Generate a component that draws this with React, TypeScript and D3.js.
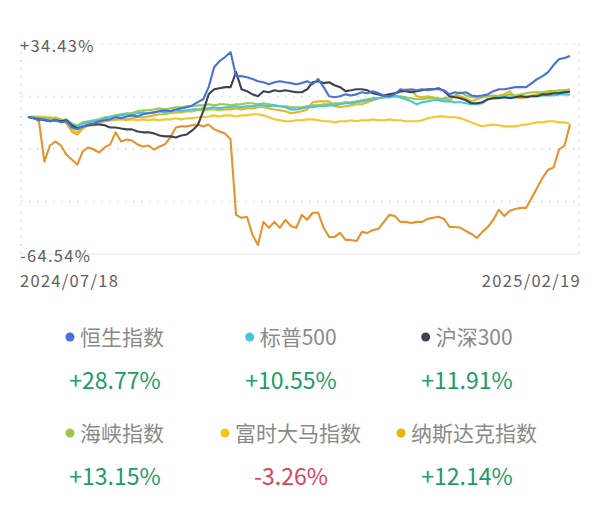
import * as d3 from "d3";

const W = 600;
const H = 521;

const yMax = 34.43;
const yMin = -64.54;
const startDate = "2024/07/18";
const endDate = "2025/02/19";

// 恒生指数
const hsi = [0, -0.6, -1.5, -1.1, -2.0, -1.5, -2.5, -2.0, -4.9, -5.8, -4.4, -3.5, -3.0, -2.0, -1.5, -1.1, -0.1, -0.6, 0.3, 0.8,
  0.3, 1.3, 1.8, 2.2, 2.7, 3.2, 2.7, 3.6, 4.1, 4.6, 5.5, 7.0, 8.4, 14.1, 23.5, 26.4, 28.3, 30.6, 19.3, 19.3,
  18.8, 17.9, 16.9, 16.4, 15.5, 16.4, 16.9, 16.4, 16.0, 15.5, 16.0, 16.9, 15.5, 17.9, 14.1, 9.8, 9.3, 9.8, 10.7, 10.2,
  10.7, 11.7, 11.2, 12.2, 11.2, 10.2, 9.8, 10.7, 13.1, 12.6, 13.1, 12.6, 13.1, 12.6, 13.1, 13.1, 12.6, 10.7, 11.7, 11.2,
  11.7, 10.2, 9.8, 10.2, 10.7, 12.2, 13.1, 13.1, 13.6, 14.1, 14.1, 14.1, 16.0, 17.9, 19.3, 21.2, 24.5, 27.3, 27.8, 28.77];

// 标普500
const spx = [0, -0.1, -0.6, -1.1, -1.5, -1.1, -2.0, -1.5, -3.5, -4.4, -3.0, -2.5, -2.0, -1.5, -0.6, -0.1, 0.3, 0.8, 1.3, 0.8,
  1.8, 2.2, 1.8, 2.2, 2.7, 2.2, 2.7, 3.2, 2.7, 3.2, 3.6, 3.6, 4.1, 4.1, 4.6, 4.1, 4.6, 4.6, 5.1, 4.6,
  5.1, 5.1, 5.5, 5.5, 5.1, 5.5, 5.1, 4.6, 3.6, 3.6, 4.1, 4.6, 4.6, 5.1, 5.1, 5.5, 5.5, 6.0, 6.5, 6.5,
  7.0, 7.4, 7.9, 8.4, 8.9, 9.3, 9.3, 9.8, 9.3, 8.4, 7.4, 6.0, 7.0, 7.4, 7.9, 7.9, 7.4, 7.4, 7.0, 7.0,
  6.5, 6.0, 6.0, 6.5, 8.4, 8.9, 9.3, 9.3, 9.3, 9.3, 9.8, 9.8, 9.8, 9.8, 10.2, 10.2, 10.2, 10.7, 10.7, 10.55];

// 沪深300
const csi = [0, -0.6, -1.1, -1.5, -2.0, -1.5, -2.0, -1.5, -3.9, -5.4, -4.4, -3.9, -3.5, -3.5, -3.9, -4.9, -4.9, -5.4, -5.8, -5.8,
  -6.8, -7.2, -7.2, -7.7, -8.7, -9.1, -9.1, -9.6, -8.7, -8.2, -6.3, -3.9, 2.7, 10.7, 13.1, 13.6, 14.1, 14.1, 21.2, 13.1,
  12.2, 10.7, 9.8, 12.2, 11.7, 12.6, 12.2, 12.6, 12.2, 11.7, 11.7, 13.1, 16.4, 16.9, 16.0, 16.4, 15.0, 14.1, 12.2, 12.6,
  13.1, 13.1, 12.6, 11.2, 10.7, 10.2, 10.7, 11.2, 12.2, 12.2, 11.7, 12.2, 12.6, 13.1, 13.1, 13.6, 12.2, 9.8, 9.3, 8.9,
  7.9, 6.5, 6.5, 7.0, 8.4, 8.9, 8.9, 9.3, 8.9, 9.3, 9.8, 9.3, 9.8, 9.8, 10.7, 10.7, 11.2, 11.2, 11.7, 11.91];

// 海峡指数
const strait = [0, -0.1, -0.6, -0.6, -1.1, -0.6, -1.5, -1.1, -3.0, -4.0, -2.5, -2.0, -1.5, -1.1, -0.1, 0.3, 0.8, 1.3, 1.8, 1.8,
  2.7, 3.2, 3.2, 3.6, 4.1, 3.6, 4.1, 4.6, 4.6, 5.1, 5.1, 5.5, 5.5, 6.0, 5.5, 6.0, 6.0, 5.5, 6.0, 6.0,
  6.5, 6.5, 6.0, 6.5, 6.0, 5.5, 5.1, 5.1, 4.6, 4.6, 4.6, 5.1, 5.5, 5.5, 6.0, 6.0, 6.5, 6.5, 7.0, 7.0,
  7.4, 7.9, 8.4, 8.9, 8.9, 9.3, 9.3, 9.8, 9.8, 9.3, 8.9, 8.4, 8.4, 8.9, 8.9, 8.4, 8.9, 9.3, 10.2, 11.7,
  10.2, 9.3, 9.3, 9.3, 9.8, 10.2, 9.8, 10.2, 10.7, 10.2, 10.7, 11.2, 11.7, 11.7, 11.7, 12.2, 12.2, 12.6, 12.6, 13.15];

// 富时大马指数
const klci = [0, 0.3, -0.1, 0.3, -0.6, -0.1, -1.1, -2.5, -5.8, -7.2, -4.9, -3.9, -3.0, -2.5, -2.0, -1.5, -1.5, -1.1, -1.5, -1.1,
  -1.5, -1.1, -1.5, -1.1, -1.5, -1.1, -1.1, -0.6, -1.1, -0.6, -0.6, -0.1, -0.1, 0.3, 0.8, 0.3, 0.8, 0.8, 0.3, 0.8,
  0.8, 1.3, 1.3, 0.8, -0.1, -1.1, -1.5, -2.0, -2.0, -1.5, -1.5, -1.1, -1.1, -1.5, -2.0, -2.0, -2.5, -2.0, -2.0, -1.5,
  -2.0, -1.5, -1.5, -1.1, -1.5, -1.5, -1.1, -1.5, -1.5, -2.0, -2.0, -2.0, -1.5, -0.6, -0.1, 0.3, 0.3, -0.1, -0.1, -0.6,
  -1.5, -2.5, -3.5, -4.4, -3.9, -3.5, -3.9, -4.4, -4.4, -4.4, -3.9, -3.5, -3.0, -2.5, -2.5, -2.0, -2.0, -2.5, -2.5, -3.26];

// 纳斯达克指数
const nasdaq = [0, -0.1, 0.3, -0.6, -0.1, -1.5, -1.1, -3.0, -6.8, -8.2, -5.4, -3.9, -3.9, -3.0, -2.0, -1.5, -1.1, -0.6, -1.1, -0.6,
  -0.1, -0.1, 0.3, 0.8, 1.3, 1.3, 1.8, 2.2, 2.2, 2.7, 2.7, 3.2, 3.2, 3.6, 3.6, 3.2, 3.6, 3.6, 4.1, 3.6,
  4.1, 4.1, 4.6, 4.6, 4.1, 3.6, 3.2, 2.7, 1.8, 2.2, 2.7, 3.6, 7.0, 7.4, 7.4, 7.4, 5.1, 4.6, 5.1, 5.5,
  6.0, 6.0, 7.0, 7.9, 8.9, 9.8, 10.7, 11.2, 11.7, 13.1, 12.6, 9.8, 9.3, 9.8, 9.3, 8.9, 8.4, 7.9, 10.2, 9.8,
  8.9, 7.4, 8.4, 9.3, 9.8, 9.8, 10.2, 10.7, 12.2, 9.3, 8.9, 9.3, 10.2, 10.7, 11.2, 11.7, 11.7, 12.2, 12.2, 12.14];

// unlabeled orange series
const extra = [0, -0.1, -2.0, -21.0, -13.4, -11.5, -13.4, -17.7, -20.0, -22.4, -16.2, -14.3, -15.3, -16.7, -14.3, -12.9, -7.2, -11.5, -10.6, -11.1,
  -12.9, -13.9, -13.4, -15.3, -13.9, -12.9, -9.6, -4.9, -4.4, -4.4, -3.9, -3.5, -4.4, -3.5, -5.8, -6.8, -7.7, -10.6, -46.1, -47.5,
  -47.0, -55.5, -60.3, -49.4, -52.2, -49.4, -52.2, -48.4, -51.3, -52.2, -46.1, -48.4, -45.1, -45.1, -52.2, -56.5, -56.5, -54.6, -57.9, -57.9,
  -58.4, -54.1, -54.6, -53.2, -52.7, -49.4, -46.1, -46.6, -49.4, -49.4, -49.9, -49.4, -49.4, -48.0, -47.5, -47.0, -48.0, -51.8, -51.8, -52.2,
  -53.7, -55.1, -57.0, -54.1, -51.8, -48.4, -43.7, -46.6, -44.2, -43.3, -42.8, -42.8, -38.0, -33.3, -28.6, -24.8, -23.8, -15.3, -13.4, -3.5];

const lines = [
  { values: extra, color: "#e8922e" },
  { values: klci, color: "#f2c82c" },
  { values: nasdaq, color: "#e8b524" },
  { values: strait, color: "#9cc94a" },
  { values: spx, color: "#45c6df" },
  { values: csi, color: "#3b4251" },
  { values: hsi, color: "#4a70dd" },
];

const legendNames = ["恒生指数", "标普500", "沪深300", "海峡指数", "富时大马指数", "纳斯达克指数"];
const legendColors = ["#4a70dd", "#45c6df", "#3b4251", "#9cc94a", "#f4c51c", "#f0b20a"];
const legendValues = [28.77, 10.55, 11.91, 13.15, -3.26, 12.14];

const font = "'Noto Sans CJK SC', 'Noto Sans', sans-serif";

export default function App() {
  const n = hsi.length;
  const x = d3.scaleLinear().domain([0, n - 1]).range([28, 570]);
  const y = d3.scaleLinear().domain([yMin, yMax]).range([254, 44]);
  const line = d3.line<number>().x((_, i) => x(i)).y((d) => y(d));
  const gridVals = d3.range(4).map((k) => yMax - (k * (yMax - yMin)) / 4);

  const colX = d3.scalePoint<number>().domain([0, 1, 2]).range([115, 467]);
  const rowY = [337, 433];
  const axisText = { fontSize: 16.5, fill: "#606060", letterSpacing: 1.3 };

  return (
    <svg width={W} height={H} style={{ position: "absolute", left: 0, top: 0, background: "#fff" }} fontFamily={font}>
      {gridVals.map((v) => (
        <line key={v} x1={21} x2={579} y1={y(v)} y2={y(v)} stroke="#d9d9d9" strokeWidth={1.5} strokeDasharray="1.5,6.5" />
      ))}
      {[21, 579].map((xx) => (
        <line key={xx} x1={xx} x2={xx} y1={y(yMax)} y2={y(yMin)} stroke="#d9d9d9" strokeWidth={1.5} strokeDasharray="1.5,6.5" />
      ))}
      <line x1={21} x2={579} y1={y(yMin)} y2={y(yMin)} stroke="#e6e6e6" strokeWidth={1.2} />

      {lines.map((s, i) => (
        <path key={i} d={line(s.values) || ""} fill="none" stroke={s.color} strokeWidth={2.1} strokeLinejoin="round" />
      ))}

      <text x={20} y={y(yMax) + 8} {...axisText}>+{yMax.toFixed(2)}%</text>
      <text x={20} y={y(yMin) + 8} {...axisText}>{yMin.toFixed(2)}%</text>
      <text x={20} y={287} {...axisText}>{startDate}</text>
      <text x={581} y={287} {...axisText} textAnchor="end">{endDate}</text>

      {legendNames.map((name, i) => {
        const cx = colX(i % 3)!;
        const ry = rowY[Math.floor(i / 3)];
        const v = legendValues[i];
        const fs = 21;
        const digits = (name.match(/[0-9]/g) || []).length;
        const tw = (name.length - digits) * fs + digits * fs * 0.55;
        const groupW = 14 + tw;
        const left = cx - groupW / 2;
        return (
          <g key={name}>
            <circle cx={left + 4} cy={ry} r={4.5} fill={legendColors[i]} />
            <text x={left + 14} y={ry + 7.5} fontSize={fs} fill="#8a8a8a">{name}</text>
            <text x={cx} y={ry + 52} fontSize={23} textAnchor="middle" fill={v >= 0 ? "#1d9b6c" : "#d9435a"}>
              {(v >= 0 ? "+" : "") + v.toFixed(2)}%
            </text>
          </g>
        );
      })}
    </svg>
  );
}
